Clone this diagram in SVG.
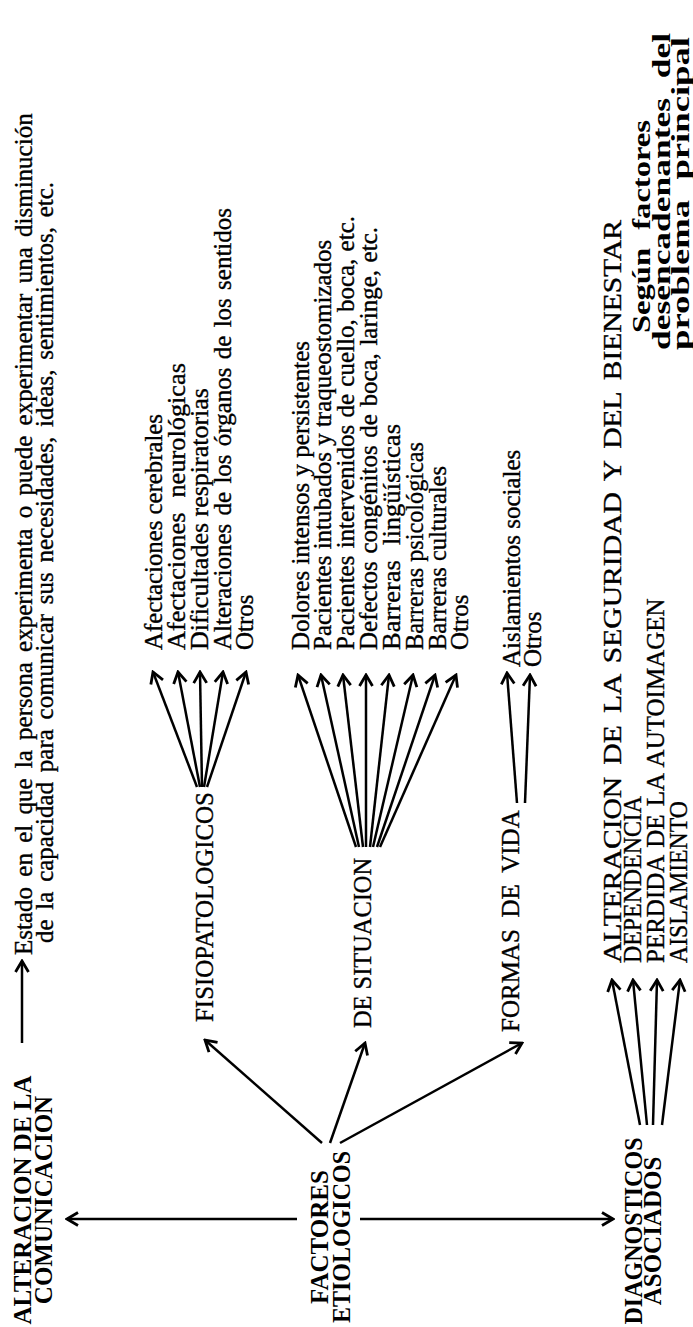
<svg xmlns="http://www.w3.org/2000/svg" width="693" height="1327" viewBox="0 0 693 1327">
<style>
.b{font-family:"Liberation Serif","Times New Roman",serif;font-weight:bold;font-size:25px;fill:#000}
.r{font-family:"Liberation Serif","Times New Roman",serif;font-size:25px;fill:#000;stroke:#000;stroke-width:0.35}
.s{font-family:"Liberation Serif","Times New Roman",serif;font-weight:bold;font-size:26px;fill:#000}
.ln{stroke:#000;stroke-width:2.5;fill:none;marker-end:url(#ah)}
</style>
<defs>
<marker id="ah" viewBox="-13 -8 15 16" markerWidth="15" markerHeight="16" refX="0" refY="0" orient="auto" markerUnits="userSpaceOnUse">
<path d="M-11,-6.5 L0,0 L-11,6.5" fill="none" stroke="#000" stroke-width="2.8" stroke-linejoin="miter"/>
</marker>
</defs>
<rect width="693" height="1327" fill="#fff"/>
<g transform="translate(0,1327) rotate(-90)">
<g id="connectors">
<line class="ln" x1="284" y1="22" x2="366" y2="22"/>
<line class="ln" x1="108" y1="297" x2="108" y2="67"/>
<line class="ln" x1="108" y1="360" x2="108" y2="613"/>
<line class="ln" x1="184" y1="322" x2="287" y2="205"/>
<line class="ln" x1="184" y1="330" x2="284" y2="365"/>
<line class="ln" x1="184" y1="340" x2="284" y2="522"/>
<line class="ln" x1="540" y1="197" x2="655" y2="153"/>
<line class="ln" x1="540" y1="200" x2="655" y2="178"/>
<line class="ln" x1="540" y1="202" x2="655" y2="200"/>
<line class="ln" x1="540" y1="204" x2="655" y2="223"/>
<line class="ln" x1="540" y1="207" x2="655" y2="246"/>
<line class="ln" x1="480" y1="356" x2="652" y2="298"/>
<line class="ln" x1="480" y1="359" x2="652" y2="321"/>
<line class="ln" x1="480" y1="363" x2="652" y2="343"/>
<line class="ln" x1="480" y1="366" x2="652" y2="366"/>
<line class="ln" x1="480" y1="370" x2="652" y2="389"/>
<line class="ln" x1="480" y1="373" x2="652" y2="413"/>
<line class="ln" x1="480" y1="377" x2="652" y2="435"/>
<line class="ln" x1="480" y1="380" x2="652" y2="456"/>
<line class="ln" x1="524" y1="517" x2="654" y2="507"/>
<line class="ln" x1="524" y1="525" x2="652" y2="530"/>
<line class="ln" x1="202" y1="640" x2="347" y2="612"/>
<line class="ln" x1="202" y1="647" x2="347" y2="633"/>
<line class="ln" x1="202" y1="653" x2="347" y2="657"/>
<line class="ln" x1="202" y1="662" x2="347" y2="680"/>
</g>
<g id="titulo">
<text class="b" x="127" y="31" text-anchor="middle">ALTERACION DE LA</text>
<text class="b" x="127" y="52" text-anchor="middle">COMUNICACION</text>
</g>
<g id="definicion">
<text class="r" x="372" y="32" word-spacing="4">Estado en el que la persona experimenta o puede experimentar una disminución</text>
<text class="r" x="384" y="53" word-spacing="3.5">de la capacidad para comunicar sus necesidades, ideas, sentimientos, etc.</text>
</g>
<g id="factores">
<text class="b" x="90" y="328" text-anchor="middle">FACTORES</text>
<text class="b" x="90" y="350" text-anchor="middle" textLength="172" lengthAdjust="spacingAndGlyphs">ETIOLOGICOS</text>
</g>
<g id="diagnosticos">
<text class="b" x="96" y="642" text-anchor="middle" textLength="187" lengthAdjust="spacingAndGlyphs">DIAGNOSTICOS</text>
<text class="b" x="96" y="661" text-anchor="middle">ASOCIADOS</text>
</g>
<g id="fisiopatologicos">
<text class="r" x="305" y="213" textLength="230" lengthAdjust="spacingAndGlyphs">FISIOPATOLOGICOS</text>
</g>
<g id="situacion">
<text class="r" x="299" y="371" textLength="170" lengthAdjust="spacingAndGlyphs">DE SITUACION</text>
</g>
<g id="formas">
<text class="r" x="295" y="519" word-spacing="5.5">FORMAS DE VIDA</text>
</g>
<g id="lista-fisio">
<text class="r" x="677" y="162" textLength="236" lengthAdjust="spacingAndGlyphs">Afectaciones cerebrales</text>
<text class="r" x="677" y="185" word-spacing="8" textLength="287" lengthAdjust="spacingAndGlyphs">Afectaciones neurológicas</text>
<text class="r" x="677" y="208" textLength="262" lengthAdjust="spacingAndGlyphs">Dificultades respiratorias</text>
<text class="r" x="677" y="231" word-spacing="2">Alteraciones de los órganos de los sentidos</text>
<text class="r" x="677" y="253">Otros</text>
</g>
<g id="lista-situacion">
<text class="r" x="677" y="309">Dolores intensos y persistentes</text>
<text class="r" x="677" y="331">Pacientes intubados y traqueostomizados</text>
<text class="r" x="677" y="354" word-spacing="1">Pacientes intervenidos de cuello, boca, etc.</text>
<text class="r" x="677" y="377" word-spacing="1.3">Defectos congénitos de boca, laringe, etc.</text>
<text class="r" x="677" y="400" word-spacing="8" textLength="226" lengthAdjust="spacingAndGlyphs">Barreras lingüísticas</text>
<text class="r" x="677" y="423" textLength="208" lengthAdjust="spacingAndGlyphs">Barreras psicológicas</text>
<text class="r" x="677" y="446" textLength="184" lengthAdjust="spacingAndGlyphs">Barreras culturales</text>
<text class="r" x="677" y="468">Otros</text>
</g>
<g id="lista-formas">
<text class="r" x="660" y="520">Aislamientos sociales</text>
<text class="r" x="660" y="541">Otros</text>
</g>
<g id="lista-diagnosticos">
<text class="r" x="364" y="621" word-spacing="4" textLength="743" lengthAdjust="spacingAndGlyphs">ALTERACION DE LA SEGURIDAD Y DEL BIENESTAR</text>
<text class="r" x="364" y="641" textLength="167" lengthAdjust="spacingAndGlyphs">DEPENDENCIA</text>
<text class="r" x="364" y="664" word-spacing="2">PERDIDA DE LA AUTOIMAGEN</text>
<text class="r" x="364" y="687" textLength="162" lengthAdjust="spacingAndGlyphs">AISLAMIENTO</text>
</g>
<g id="nota">
<text class="s" x="994" y="650" word-spacing="8" textLength="213" lengthAdjust="spacingAndGlyphs">Según factores</text>
<text class="s" x="977" y="670" word-spacing="8" textLength="317" lengthAdjust="spacingAndGlyphs">desencadenantes del</text>
<text class="s" x="977" y="689" word-spacing="8" textLength="313" lengthAdjust="spacingAndGlyphs">problema principal</text>
</g>
</g>
</svg>
